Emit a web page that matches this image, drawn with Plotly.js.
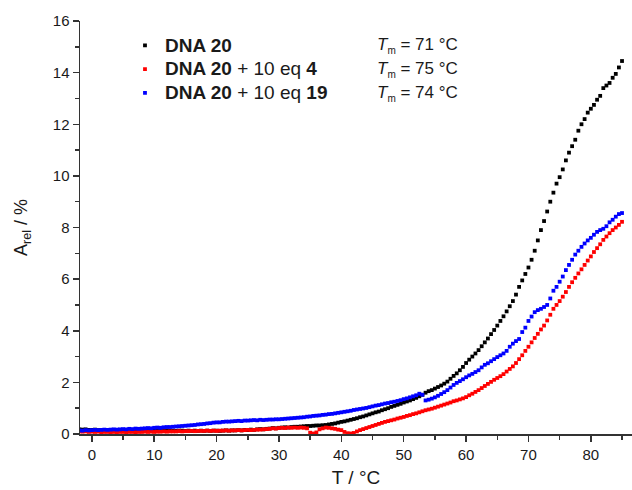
<!DOCTYPE html>
<html>
<head>
<meta charset="utf-8">
<script src="https://cdn.plot.ly/plotly-3.0.1.min.js"></script>
<style>
html,body{margin:0;padding:0;background:#fff;}
#chart{width:632px;height:490px;}
</style>
</head>
<body>
<div id="chart"></div>
<script>
// Temperature grid: start and step (°C)
const tStart = -2;
const tStep = 0.5;

const seriesNames = [
  "<b>DNA 20</b>",
  "<b>DNA 20</b> + 10 eq <b>4</b>",
  "<b>DNA 20</b> + 10 eq <b>19</b>"
];
const tmLabels = ["71", "75", "74"];

// A_rel (%) of DNA 20, -2..85 °C every 0.5 °C
const dna20 = [
  0.18,0.17,0.18,0.16,0.16,0.17,0.15,0.16,0.15,0.16,
  0.15,0.16,0.14,0.15,0.15,0.14,0.15,0.14,0.14,0.15,
  0.14,0.13,0.14,0.14,0.13,0.14,0.13,0.13,0.14,0.13,
  0.13,0.12,0.13,0.13,0.12,0.13,0.12,0.13,0.12,0.13,
  0.12,0.13,0.12,0.13,0.13,0.12,0.13,0.14,0.13,0.14,
  0.14,0.15,0.14,0.16,0.15,0.17,0.16,0.18,0.19,0.18,
  0.20,0.21,0.23,0.22,0.24,0.25,0.26,0.25,0.27,0.28,
  0.28,0.29,0.30,0.31,0.31,0.32,0.33,0.33,0.34,0.35,
  0.37,0.39,0.41,0.44,0.47,0.49,0.52,0.55,0.58,0.61,
  0.65,0.68,0.72,0.76,0.80,0.84,0.87,0.92,0.96,1.00,
  1.05,1.09,1.13,1.17,1.22,1.26,1.30,1.35,1.40,1.46,
  1.52,1.60,1.66,1.70,1.76,1.82,1.88,1.95,2.03,2.14,
  2.25,2.35,2.47,2.60,2.75,2.88,3.00,3.12,3.25,3.40,
  3.55,3.70,3.87,4.03,4.20,4.38,4.56,4.75,4.95,5.15,
  5.40,5.70,5.95,6.20,6.45,6.75,7.10,7.50,7.90,8.25,
  8.62,9.00,9.35,9.70,9.95,10.25,10.60,10.90,11.15,11.40,
  11.75,12.00,12.20,12.45,12.60,12.75,12.95,13.10,13.40,13.50,
  13.60,13.80,13.95,14.20,14.45
];

// A_rel (%) of DNA 20 + 10 eq 4
const dna20eq4 = [
  0.10,0.09,0.10,0.08,0.09,0.08,0.09,0.07,0.08,0.08,
  0.07,0.08,0.07,0.08,0.08,0.07,0.08,0.08,0.07,0.08,
  0.08,0.09,0.08,0.09,0.08,0.09,0.09,0.10,0.09,0.10,
  0.10,0.10,0.11,0.10,0.11,0.11,0.12,0.11,0.12,0.12,
  0.12,0.13,0.12,0.13,0.12,0.13,0.13,0.14,0.13,0.14,
  0.14,0.15,0.14,0.15,0.16,0.15,0.16,0.17,0.17,0.18,
  0.19,0.20,0.22,0.21,0.23,0.24,0.23,0.25,0.24,0.25,
  0.24,0.25,0.24,0.22,0.05,0.02,0.06,0.18,0.22,0.25,
  0.24,0.22,0.20,0.17,0.15,0.08,0.03,0.02,0.04,0.10,
  0.15,0.19,0.23,0.27,0.31,0.35,0.39,0.43,0.47,0.50,
  0.53,0.56,0.60,0.63,0.66,0.70,0.73,0.77,0.80,0.84,
  0.88,0.92,0.95,0.98,1.02,1.06,1.10,1.14,1.18,1.22,
  1.27,1.30,1.34,1.38,1.43,1.50,1.56,1.63,1.70,1.78,
  1.86,1.94,2.02,2.10,2.17,2.24,2.32,2.42,2.52,2.62,
  2.75,2.90,3.05,3.22,3.38,3.55,3.72,3.88,4.05,4.20,
  4.40,4.62,4.85,5.00,5.15,5.32,5.50,5.70,5.88,6.05,
  6.22,6.38,6.55,6.72,6.88,7.05,7.20,7.35,7.52,7.65,
  7.78,7.90,8.00,8.10,8.22
];

// A_rel (%) of DNA 20 + 10 eq 19
const dna20eq19 = [
  0.14,0.13,0.15,0.14,0.15,0.16,0.15,0.16,0.17,0.16,
  0.17,0.18,0.17,0.18,0.19,0.18,0.20,0.19,0.21,0.20,
  0.21,0.22,0.23,0.22,0.24,0.25,0.24,0.26,0.27,0.27,
  0.28,0.29,0.30,0.31,0.32,0.33,0.34,0.35,0.37,0.38,
  0.39,0.41,0.42,0.44,0.45,0.45,0.47,0.48,0.48,0.49,
  0.50,0.51,0.50,0.52,0.52,0.53,0.54,0.53,0.55,0.54,
  0.55,0.56,0.56,0.57,0.57,0.58,0.59,0.60,0.61,0.62,
  0.63,0.64,0.65,0.67,0.68,0.70,0.71,0.72,0.74,0.75,
  0.77,0.78,0.80,0.82,0.84,0.86,0.88,0.90,0.93,0.95,
  0.97,0.99,1.01,1.04,1.07,1.10,1.12,1.15,1.18,1.20,
  1.23,1.25,1.28,1.31,1.35,1.38,1.42,1.46,1.50,1.56,
  1.52,1.30,1.33,1.37,1.42,1.48,1.55,1.62,1.70,1.80,
  1.90,1.98,2.05,2.12,2.20,2.27,2.33,2.40,2.47,2.58,
  2.68,2.74,2.82,2.90,2.98,3.05,3.12,3.22,3.38,3.50,
  3.60,3.68,3.95,4.12,4.38,4.55,4.72,4.80,4.85,4.92,
  5.00,5.25,5.55,5.70,5.90,6.10,6.35,6.55,6.75,6.95,
  7.10,7.25,7.38,7.50,7.60,7.72,7.83,7.90,7.95,8.05,
  8.20,8.30,8.42,8.52,8.56
];

const seriesData = [dna20, dna20eq4, dna20eq19];
const seriesColors = ["#000000", "#ff0000", "#0000ff"];

const traces = seriesData.map((y, i) => ({
  type: "scatter",
  mode: "markers",
  x0: tStart,
  dx: tStep,
  y: y,
  name: '<span style="font-size:19px">' + seriesNames[i] + '</span>',
  marker: {symbol: "square", size: 3.8, color: seriesColors[i], line: {width: 0}},
  hoverinfo: "skip"
}));

const font = {family: "Liberation Sans, Arial, sans-serif", color: "#1a1a1a"};

const tmAnnotations = tmLabels.map((v, i) => ({
  xref: "paper", yref: "paper",
  x: 0.534, y: 0.94 - i * 0.0578,
  xanchor: "left", yanchor: "middle",
  showarrow: false,
  text: '<i>T</i><sub><span style="font-size:10px">m</span></sub> = ' + v + " °C",
  font: Object.assign({}, font, {size: 17})
}));

const layout = {
  width: 632, height: 490,
  margin: {l: 80, r: 0, t: 21, b: 56.3},
  paper_bgcolor: "#fff", plot_bgcolor: "#fff",
  font: font,
  showlegend: true,
  legend: {
    x: 0.0815, y: 0.982, xanchor: "left", yanchor: "top",
    bgcolor: "rgba(0,0,0,0)",
    font: Object.assign({}, font, {size: 16}),
    itemwidth: 30
  },
  xaxis: {
    range: [-1.9, 86.6],
    tick0: 0, dtick: 10,
    ticks: "outside", ticklen: 6, tickwidth: 1.5, tickcolor: "#333",
    minor: {dtick: 5, ticks: "outside", ticklen: 4, tickwidth: 1.5, tickcolor: "#333"},
    showline: true, linecolor: "#333", linewidth: 1.5,
    showgrid: false, zeroline: false,
    tickfont: Object.assign({}, font, {size: 15}),
    title: {text: "T / °C", font: Object.assign({}, font, {size: 19}), standoff: 9}
  },
  yaxis: {
    range: [0, 16],
    tick0: 0, dtick: 2,
    ticks: "outside", ticklen: 6, tickwidth: 1.5, tickcolor: "#333",
    minor: {dtick: 1, ticks: "outside", ticklen: 4, tickwidth: 1.5, tickcolor: "#333"},
    showline: true, linecolor: "#333", linewidth: 1.5,
    showgrid: false, zeroline: false,
    tickfont: Object.assign({}, font, {size: 15}),
    title: {text: "A<sub>rel</sub> / %", font: Object.assign({}, font, {size: 18}), standoff: 20}
  },
  annotations: tmAnnotations
};

Plotly.newPlot("chart", traces, layout, {displayModeBar: false, staticPlot: true});
</script>
</body>
</html>
